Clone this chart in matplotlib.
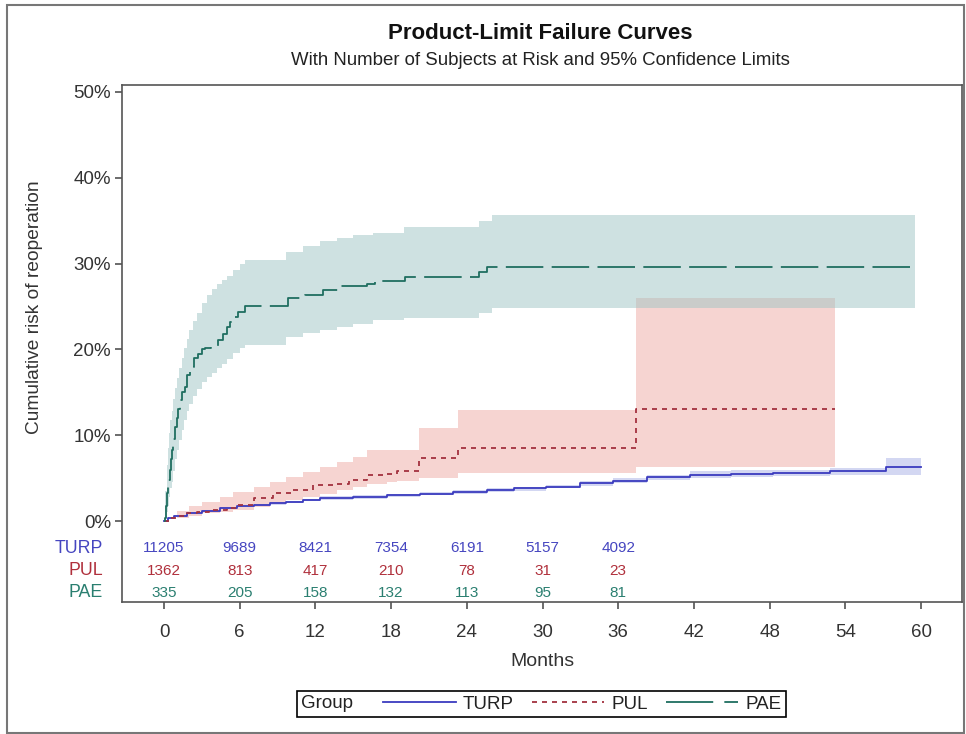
import matplotlib
matplotlib.use("Agg")
import matplotlib.pyplot as plt
from matplotlib.lines import Line2D
from matplotlib.patches import Rectangle
from matplotlib.offsetbox import HPacker

plt.rcParams['font.family'] = ['Liberation Sans', 'DejaVu Sans']
plt.rcParams['lines.scale_dashes'] = False

# ---------------- data ----------------
months_ticks = [0, 6, 12, 18, 24, 30, 36, 42, 48, 54, 60]
risk_months = [0, 6, 12, 18, 24, 30, 36]
groups = ['TURP', 'PUL', 'PAE']
at_risk_turp = [11205, 9689, 8421, 7354, 6191, 5157, 4092]
at_risk_pul = [1362, 813, 417, 210, 78, 31, 23]
at_risk_pae = [335, 205, 158, 132, 113, 95, 81]

# TURP failure curve (%)
turp_t = [0, 0.3, 0.8, 1.8, 3.0, 4.4, 5.8, 7.1, 8.4, 9.7, 11.0, 12.4, 15.0, 17.7, 20.3,
          22.9, 25.6, 27.7, 30.3, 33.0, 35.6, 38.3, 41.7, 44.9, 48.3, 52.8, 57.2, 60.0]
turp_v = [0, 0.3, 0.6, 0.9, 1.2, 1.5, 1.7, 1.9, 2.05, 2.2, 2.45, 2.7, 2.8, 3.0, 3.2,
          3.4, 3.6, 3.8, 4.0, 4.4, 4.7, 5.1, 5.4, 5.5, 5.6, 5.8, 6.3, 6.3]
turp_lo = [0, 0.2, 0.5, 0.8, 1.1, 1.4, 1.6, 1.8, 1.9, 2.05, 2.3, 2.5, 2.6, 2.8, 3.0,
           3.2, 3.4, 3.5, 3.8, 4.1, 4.4, 4.8, 5.0, 5.1, 5.2, 5.4, 5.4, 5.4]
turp_hi = [0, 0.4, 0.7, 1.0, 1.3, 1.6, 1.8, 2.0, 2.2, 2.35, 2.6, 2.9, 3.0, 3.2, 3.4,
           3.6, 3.8, 4.0, 4.2, 4.7, 5.0, 5.4, 5.8, 5.9, 6.0, 6.2, 7.3, 7.3]

# PUL failure curve (%)
pul_t = [0, 0.5, 1.0, 1.8, 2.6, 3.6, 5.0, 5.8, 7.1, 8.6, 10.2, 11.8, 13.7, 14.7, 16.1,
         17.7, 18.5, 20.2, 23.3, 37.4, 53.2]
pul_v = [0, 0.3, 0.6, 0.9, 1.1, 1.3, 1.5, 1.9, 2.7, 3.3, 3.6, 4.2, 4.3, 4.8, 5.4,
         5.5, 5.8, 7.3, 8.5, 13.0, 13.0]
pul_ci_t = [0, 1.0, 2.0, 3.0, 4.4, 5.5, 7.1, 8.4, 9.7, 11.0, 12.4, 13.7, 15.0, 16.1,
            17.7, 18.5, 20.2, 23.3, 37.4, 53.2]
pul_hi = [0, 1.2, 1.7, 2.2, 2.8, 3.4, 4.0, 4.6, 5.1, 5.7, 6.3, 6.9, 7.5, 8.3,
          8.3, 8.3, 10.8, 12.9, 26.0, 26.0]
pul_lo = [0, 0.3, 0.6, 0.9, 1.1, 1.3, 1.6, 2.0, 2.4, 2.8, 3.2, 3.6, 4.0, 4.3,
          4.6, 4.7, 5.0, 5.6, 6.3, 6.3]

# PAE failure curve (%)
pae_t = [0, 0.05, 0.15, 0.25, 0.35, 0.45, 0.55, 0.65, 0.75, 0.87, 1.0, 1.13, 1.27, 1.45,
         1.66, 1.85, 2.06, 2.35, 2.7, 3.0, 3.25, 3.7, 4.3, 4.65, 5.0, 5.25, 5.5, 5.9, 6.4,
         9.8, 11.2, 12.6, 13.8, 16.1, 16.7, 19.1, 25.0, 25.6, 59.5]
pae_v = [0, 0.3, 1.8, 3.3, 4.8, 6.0, 7.2, 8.3, 9.5, 11.0, 12.0, 13.0, 14.1, 15.0,
         15.6, 17.0, 18.0, 19.0, 19.5, 20.0, 20.2, 20.3, 21.1, 21.8, 22.6, 23.2, 23.8, 24.4, 25.0,
         26.0, 26.3, 26.9, 27.4, 27.6, 28.0, 28.4, 29.0, 29.6, 29.6]
pae_ci_t = [0, 0.1, 0.2, 0.3, 0.4, 0.5, 0.6, 0.75, 0.9, 1.05, 1.2, 1.4, 1.6, 1.8, 2.0,
            2.3, 2.6, 3.0, 3.4, 3.8, 4.2, 4.6, 5.0, 5.5, 6.0, 6.4, 9.7, 11.0,
            12.4, 13.7, 15.0, 16.6, 19.0, 25.0, 26.0, 59.5]
pae_hi = [0, 3.5, 6.5, 8.5, 10.3, 11.8, 12.8, 14.2, 15.5, 16.7, 17.8, 19.0, 20.2, 21.2, 22.2,
          23.3, 24.2, 25.4, 26.3, 27.0, 27.6, 28.1, 28.6, 29.3, 29.9, 30.4, 31.3, 32.0,
          32.6, 33.0, 33.3, 33.6, 34.2, 34.9, 35.6, 35.6]
pae_lo = [0, 0.3, 1.0, 1.8, 2.8, 3.8, 4.6, 5.8, 7.2, 8.3, 9.4, 10.6, 11.8, 12.8, 13.6,
          14.6, 15.4, 16.2, 16.8, 17.3, 17.8, 18.3, 18.9, 19.6, 20.1, 20.5, 21.4, 21.9,
          22.3, 22.6, 23.0, 23.4, 23.6, 24.2, 24.8, 24.8]

# ---------------- style ----------------
c_turp = '#3b3bbf'
c_pul = '#a3323f'
c_pae = '#1f6e60'
f_turp = '#a9b0e6'
f_pul = '#eeaaa5'
f_pae = '#9fc5c5'
txt_turp = '#4646c0'
txt_pul = '#b0303c'
txt_pae = '#2a7f70'

fig = plt.figure(figsize=(9.66, 7.34), dpi=100)
ax = fig.add_axes([0.1263, 0.1798, 0.8696, 0.7044])

ax.fill_between(turp_t, turp_lo, turp_hi, step='post', color=f_turp, alpha=0.5, lw=0)
ax.fill_between(pul_ci_t, pul_lo, pul_hi, step='post', color=f_pul, alpha=0.5, lw=0)
ax.fill_between(pae_ci_t, pae_lo, pae_hi, step='post', color=f_pae, alpha=0.5, lw=0)

ax.step(turp_t, turp_v, where='post', color=c_turp, lw=1.3, label='TURP')
ax.step(pul_t, pul_v, where='post', color=c_pul, lw=1.3, dashes=(3.6, 3.6), label='PUL')
ax.step(pae_t, pae_v, where='post', color=c_pae, lw=1.3, dashes=(27, 6), label='PAE')

ax.set_xlim(-3.33, 63.25)
ax.set_ylim(-9.44, 50.8)
ax.set_yticks([0, 10, 20, 30, 40, 50])
ax.set_yticklabels(['0%', '10%', '20%', '30%', '40%', '50%'])
ax.set_xticks(months_ticks)
ax.tick_params(axis='both', direction='out', length=5, width=1.1, color='#444444',
               labelsize=13.5, labelcolor='#333333', pad=3)
ax.tick_params(axis='x', pad=11)
for s in ax.spines.values():
    s.set_color('#555555')
    s.set_linewidth(1.2)

ax.set_xlabel('Months', fontsize=14, color='#333333')
ax.xaxis.set_label_coords(0.501, -0.098)
ax.set_ylabel('Cumulative risk of reoperation', fontsize=13.8, color='#333333')
ax.yaxis.set_label_coords(-0.094, 0.571)

# at-risk table
rows = [(at_risk_turp, txt_turp, -3.15), (at_risk_pul, txt_pul, -5.8), (at_risk_pae, txt_pae, -8.35)]
for (vals, col, yy), name in zip(rows, groups):
    for m, v in zip(risk_months, vals):
        ax.text(m, yy, str(v), ha='center', va='center', fontsize=11, color=col)
    ax.text(-4.83, yy, name, ha='right', va='center', fontsize=12.8, color=col, clip_on=False)

# titles
fig.text(0.5595, 0.9537, 'Product-Limit Failure Curves', ha='center', va='center',
         fontsize=16, fontweight='bold', color='#111111')
fig.text(0.5595, 0.918, 'With Number of Subjects at Risk and 95% Confidence Limits',
         ha='center', va='center', fontsize=13.4, color='#222222')

# legend
handles = [Line2D([], [], color=c_turp, lw=1.3),
           Line2D([], [], color=c_pul, lw=1.3, dashes=(3.6, 3.6)),
           Line2D([], [], color=c_pae, lw=1.3, dashes=(34, 8))]
fs = 13.5
leg = fig.legend(handles, groups, title='Group', ncol=3, loc='center',
                 bbox_to_anchor=(0.5606, 0.0409), fancybox=False, edgecolor='black',
                 fontsize=fs, title_fontsize=fs, handlelength=3.85, handletextpad=0.4,
                 columnspacing=0.95, borderpad=0.25, framealpha=1)
leg.get_frame().set_linewidth(1.2)
for t in leg.get_texts():
    t.set_color('#222222')
leg.get_title().set_color('#222222')
try:
    newbox = HPacker(pad=leg.borderpad * fs, sep=1.6 * fs, align='center',
                     children=[leg._legend_title_box, leg._legend_handle_box])
    newbox.set_figure(fig)
    newbox.axes = leg.axes
    leg._legend_box = newbox
    leg._legend_box.set_offset(leg._findoffset)
except Exception:
    pass

# outer frame
fig.add_artist(Rectangle((7 / 966, 1.5 / 734), (964 - 7) / 966, (727.5) / 734,
                         transform=fig.transFigure, fill=False, edgecolor='#777777', lw=1.5))

fig.savefig('out.png', dpi=100)
